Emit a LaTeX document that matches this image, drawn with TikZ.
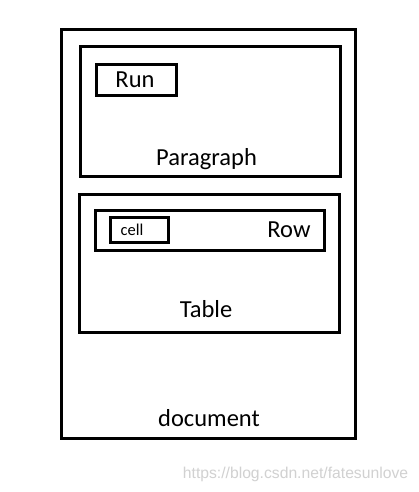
\documentclass[tikz,border=0pt]{standalone}
\usepackage{fontspec}
\setmainfont{Carlito}
\newfontfamily\markfont{Liberation Sans}
\begin{document}
\begin{tikzpicture}[x=1pt,y=-1pt,
    box/.style={draw, line width=3pt, inner sep=0pt, outer sep=0pt},
    lbl/.style={anchor=base, inner sep=0pt, font=\fontsize{24.5}{28}\selectfont},
    small/.style={anchor=base, inner sep=0pt, font=\fontsize{16.5}{19}\selectfont}]
\useasboundingbox[fill=white] (0,0) rectangle (418,492);
% Boxes
\node[box, minimum width=294pt, minimum height=408.5pt] (docbox) at (208.5,234.25) {};
\node[box, minimum width=260pt, minimum height=130pt] (parbox) at (210,111.5) {};
\node[box, minimum width=80pt, minimum height=31pt] (runbox) at (136.5,80) {};
\node[box, minimum width=260pt, minimum height=138pt] (tabbox) at (209,263.5) {};
\node[box, minimum width=229pt, minimum height=40.5pt] (rowbox) at (209.5,230.25) {};
\node[box, minimum width=58pt, minimum height=24.5pt] (cellbox) at (139.5,229.75) {};
% Labels
\node[lbl] (run) at (135,87.7) {Run};
\node[lbl] (par) at (206.5,165) {Paragraph};
\node[lbl] (row) at (289,237.7) {Row};
\node[small] (cell) at (132,235) {cell};
\node[lbl] (tab) at (206,317.7) {Table};
\node[lbl] (doc) at (209,426.7) {document};
% Watermark
\node[anchor=base, inner sep=0pt, text=black!18, font=\markfont\fontsize{15.7}{18}\selectfont] (mark) at (295.5,478) {https://blog.csdn.net/fatesunlove};
\end{tikzpicture}
\end{document}
